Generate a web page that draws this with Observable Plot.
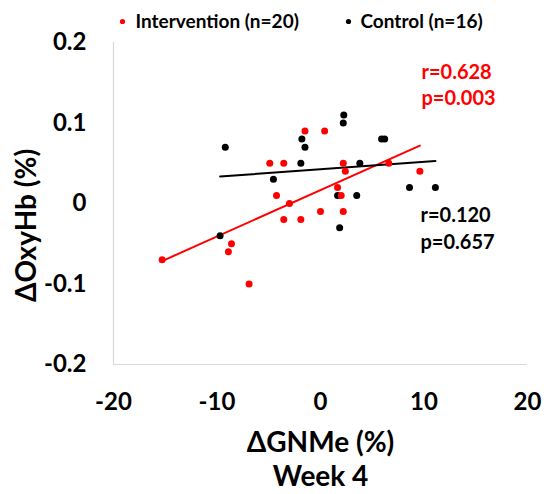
<!DOCTYPE html>
<html>
<head>
<meta charset="utf-8">
<script src="https://cdn.jsdelivr.net/npm/d3@7"></script>
<script src="https://cdn.jsdelivr.net/npm/@observablehq/plot@0.6"></script>
<style>
  body { margin: 0; background: #fff; }
  svg { font-family: Lato, "Open Sans", sans-serif; }
</style>
</head>
<body>
<div id="chart"></div>
<script>
// Intervention group (red)
const intervX = [-15.3, -8.9, -8.6, -6.9, -4.9, -3.55, -4.25, -3.0, -3.55, -1.9, -1.5, 0.4, 0.0, 1.65, 2.0, 2.2, 2.4, 2.2, 6.6, 9.6];
const intervY = [-0.07, -0.06, -0.05, -0.10, 0.05, 0.05, 0.01, 0.00, -0.02, -0.02, 0.09, 0.09, -0.01, 0.02, 0.01, 0.05, 0.04, -0.01, 0.05, 0.04];
// Control group (black)
const controlX = [-9.7, -9.2, -4.55, -1.9, -1.8, -1.5, 1.65, 1.85, 2.25, 2.2, 3.5, 3.8, 5.9, 6.2, 8.6, 11.1];
const controlY = [-0.04, 0.07, 0.03, 0.05, 0.08, 0.07, 0.01, -0.03, 0.11, 0.10, 0.01, 0.05, 0.08, 0.08, 0.02, 0.02];
// Fitted regression lines (endpoints)
const fitIntervX = [-15.3, 9.6];
const fitIntervY = [-0.0715, 0.072];
const fitControlX = [-9.7, 11.1];
const fitControlY = [0.0335, 0.0527];
// Ticks and labels
const xTicks = [-20, -10, 0, 10, 20];
const yTicks = [-0.2, -0.1, 0, 0.1, 0.2];
const legendLabels = ["Intervention (n=20)", "Control (n=16)"];
const groupColors = ["#ff0000", "#000000"];
const statsInterv = ["r=0.628", "p=0.003"];
const statsControl = ["r=0.120", "p=0.657"];
const xTitle = "ΔGNMe (%)";
const xSubtitle = "Week 4";
const yTitle = "ΔOxyHb (%)";

const interv = intervX.map((x, i) => ({x, y: intervY[i]}));
const control = controlX.map((x, i) => ({x, y: controlY[i]}));
const fitI = fitIntervX.map((x, i) => ({x, y: fitIntervY[i]}));
const fitC = fitControlX.map((x, i) => ({x, y: fitControlY[i]}));

const bold = {fontWeight: "bold"};

const chart = Plot.plot({
  width: 546,
  height: 494,
  marginLeft: 113,
  marginRight: 19,
  marginTop: 42,
  marginBottom: 130,
  style: {fontFamily: "Lato, 'Open Sans', sans-serif", background: "#fff"},
  x: {domain: [-20, 20], ticks: xTicks, tickFormat: d => String(d), label: null},
  y: {domain: [-0.2, 0.2], ticks: yTicks, tickFormat: d => String(d), label: null},
  marks: [
    Plot.ruleX([-20], {stroke: "#d9d9d9", strokeWidth: 1.2}),
    Plot.ruleY([-0.2], {stroke: "#d9d9d9", strokeWidth: 1.2}),
    Plot.axisX({ticks: xTicks, tickFormat: d => String(d), tickSize: 0, tickPadding: 28, fontSize: 24, ...bold, fill: "#000", label: null}),
    Plot.axisY({ticks: yTicks, tickFormat: d => String(d), tickSize: 0, tickPadding: 27, fontSize: 24, ...bold, fill: "#000", label: null}),
    Plot.line(fitI, {x: "x", y: "y", stroke: groupColors[0], strokeWidth: 2}),
    Plot.line(fitC, {x: "x", y: "y", stroke: groupColors[1], strokeWidth: 2}),
    Plot.dot(control, {x: "x", y: "y", r: 3.5, fill: groupColors[1]}),
    Plot.dot(interv, {x: "x", y: "y", r: 3.5, fill: groupColors[0]}),
    // legend
    Plot.dot([0], {frameAnchor: "top-left", dx: 9, dy: -21, r: 2.6, fill: groupColors[0]}),
    Plot.text([legendLabels[0]], {frameAnchor: "top-left", dx: 22, dy: -21, text: d => d, textAnchor: "start", lineAnchor: "middle", fontSize: 19, ...bold, fill: "#000"}),
    Plot.dot([0], {frameAnchor: "top-left", dx: 235, dy: -21, r: 2.6, fill: groupColors[1]}),
    Plot.text([legendLabels[1]], {frameAnchor: "top-left", dx: 247, dy: -21, text: d => d, textAnchor: "start", lineAnchor: "middle", fontSize: 19, ...bold, fill: "#000"}),
    // stats
    Plot.text([statsInterv[0]], {frameAnchor: "top-left", dx: 308, dy: 30, text: d => d, textAnchor: "start", lineAnchor: "middle", fontSize: 20, ...bold, fill: groupColors[0]}),
    Plot.text([statsInterv[1]], {frameAnchor: "top-left", dx: 308, dy: 56, text: d => d, textAnchor: "start", lineAnchor: "middle", fontSize: 20, ...bold, fill: groupColors[0]}),
    Plot.text([statsControl[0]], {frameAnchor: "top-left", dx: 307, dy: 173, text: d => d, textAnchor: "start", lineAnchor: "middle", fontSize: 20, ...bold, fill: groupColors[1]}),
    Plot.text([statsControl[1]], {frameAnchor: "top-left", dx: 307, dy: 200, text: d => d, textAnchor: "start", lineAnchor: "middle", fontSize: 20, ...bold, fill: groupColors[1]}),
    // axis titles
    Plot.text([xTitle], {frameAnchor: "bottom", dy: 79, text: d => d, textAnchor: "middle", lineAnchor: "middle", fontSize: 28, ...bold, fill: "#000"}),
    Plot.text([xSubtitle], {frameAnchor: "bottom", dy: 113, text: d => d, textAnchor: "middle", lineAnchor: "middle", fontSize: 28, ...bold, fill: "#000"}),
    Plot.text([yTitle], {frameAnchor: "left", dx: -86, dy: 22, text: d => d, rotate: -90, textAnchor: "middle", lineAnchor: "middle", fontSize: 28, ...bold, fill: "#000"})
  ]
});
document.getElementById("chart").appendChild(chart);
</script>
</body>
</html>
